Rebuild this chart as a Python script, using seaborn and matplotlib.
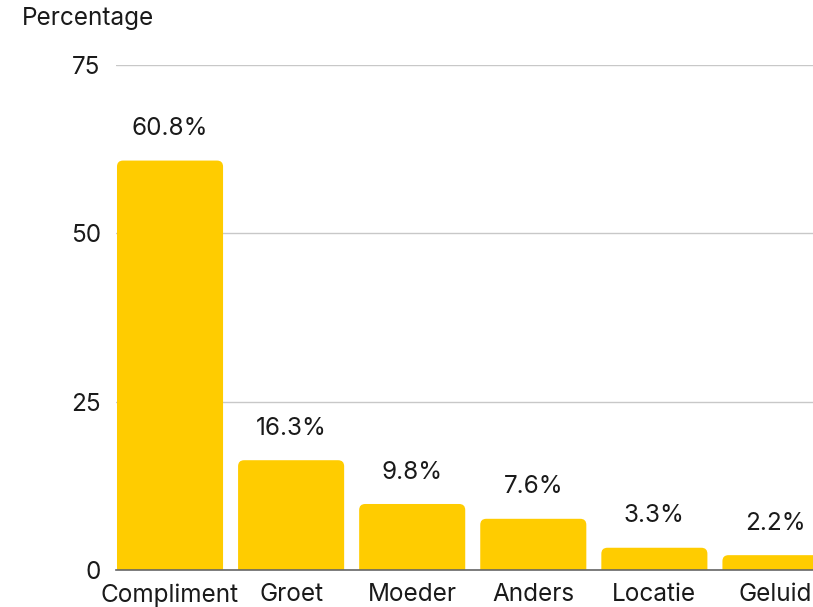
import numpy as np
import pandas as pd
import matplotlib
matplotlib.use("Agg")
import matplotlib.pyplot as plt
import seaborn as sns
from matplotlib.patches import FancyBboxPatch

# data
categories = ["Compliment", "Groet", "Moeder", "Anders", "Locatie", "Geluid"]
percentages = [60.8, 16.3, 9.8, 7.6, 3.3, 2.2]
y_ticks = [0, 25, 50, 75]

BAR_COLOR = "#FFCC00"
TEXT_COLOR = "#1a1a1a"
FS = 17.5

sns.set_style("white")
plt.rcParams["font.family"] = ["Inter", "DejaVu Sans"]

df = pd.DataFrame({"categorie": categories, "percentage": percentages})

fig = plt.figure(figsize=(8.13, 6.07), dpi=100)
ax = fig.add_axes([0.1427, 0.061, 0.8573, 0.832])

sns.barplot(data=df, x="categorie", y="percentage", color=BAR_COLOR,
            width=0.876, saturation=1, ax=ax, zorder=2)

# vervang de rechthoeken door balken met afgeronde bovenhoeken
for rect in list(ax.patches):
    x0, w, h = rect.get_x(), rect.get_width(), rect.get_height()
    rect.remove()
    box = FancyBboxPatch((x0, -3), w, h + 3,
                         boxstyle="round,pad=0,rounding_size=0.05",
                         mutation_aspect=18, facecolor=BAR_COLOR,
                         edgecolor="none", zorder=2)
    ax.add_patch(box)

for i, v in enumerate(percentages):
    ax.annotate(f"{v}%", (i, v), xytext=(0, 23), textcoords="offset points",
                ha="center", va="center", fontsize=FS, color=TEXT_COLOR)

ax.set_xlim(-0.446, 5.31)
ax.set_ylim(0, 75)
ax.set_yticks(y_ticks)
ax.yaxis.grid(True, color="#c8c8c8", linewidth=1)
ax.set_axisbelow(True)
ax.tick_params(axis="both", length=0, labelsize=FS, colors=TEXT_COLOR)
ax.tick_params(axis="y", pad=11)
ax.tick_params(axis="x", pad=9.5)
ax.set_xlabel("")
ax.set_ylabel("")
for s in ["top", "right", "left"]:
    ax.spines[s].set_visible(False)
ax.spines["bottom"].set_color("#666666")
ax.spines["bottom"].set_linewidth(1.2)
ax.spines["bottom"].set_zorder(3)

fig.text(22 / 813, 1 - 18 / 607, "Percentage", ha="left", va="center",
         fontsize=FS, color=TEXT_COLOR)

fig.savefig("out.png", dpi=100)
